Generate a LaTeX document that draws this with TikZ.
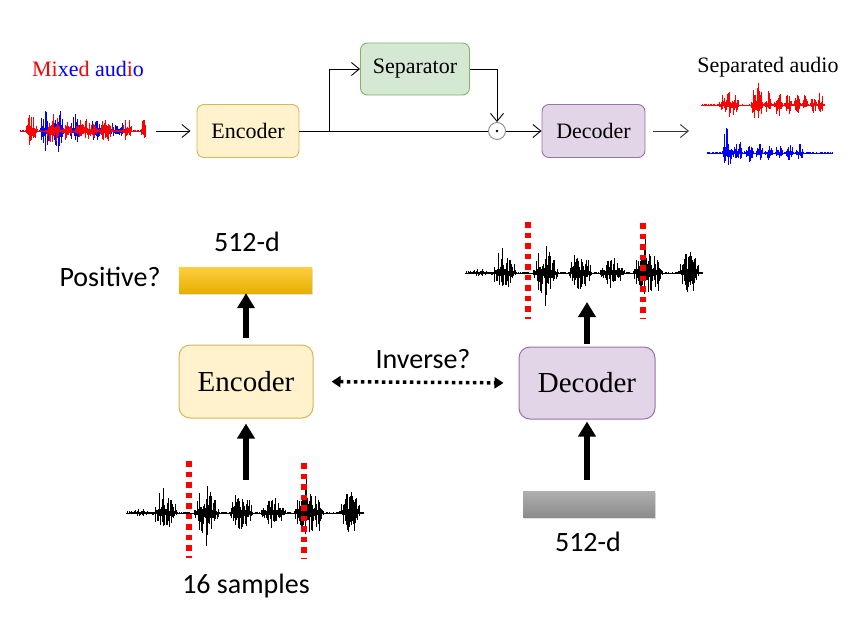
\documentclass[tikz,border=0pt]{standalone}
\usepackage{fontspec}
\setmainfont{Liberation Serif}
\newfontfamily\calfont{Carlito}
\usetikzlibrary{arrows.meta,shadows,calc}

\definecolor{yfill}{HTML}{FFF2CC}\definecolor{ydraw}{HTML}{D6B656}
\definecolor{gfill}{HTML}{D5E8D4}\definecolor{gdraw}{HTML}{82B366}
\definecolor{pfill}{HTML}{E1D5E7}\definecolor{pdraw}{HTML}{9673A6}
\definecolor{mred}{HTML}{FF0000}\definecolor{mblue}{HTML}{0000FF}

\def\wspike{0.5}
\newcommand\wavef[6]{%
  \pgfmathsetseed{#6}%
  \draw[#4,line width=0.6pt] (#1,#2) -- ++(#3,0);
  \foreach \t in {0,0.8,...,#3}{%
    \xdef\wenv{1.1}%
    \foreach \bc/\bh/\bw in {#5}{%
      \pgfmathsetmacro\wm{max(0,1-abs(\t-\bc)/\bw)}%
      \pgfmathparse{\wenv+\bh*\wm*(2-\wm)}%
      \xdef\wenv{\pgfmathresult}}%
    \pgfmathsetmacro\wr{rnd}%
    \pgfmathsetmacro\ws{rnd}%
    \pgfmathsetmacro\wa{\wenv*(0.15+0.7*\wr*\wr+0.25*\wr+\wspike*(\ws>0.93)*(\wenv>6))}%
    \pgfmathsetmacro\wr{rnd}%
    \pgfmathsetmacro\ws{rnd}%
    \pgfmathsetmacro\wb{\wenv*(0.12+0.55*\wr*\wr+0.2*\wr+1.2*\wspike*(\ws>0.94)*(\wenv>6))}%
    \draw[#4,line width=0.55pt] (#1+\t,#2-\wa) -- (#1+\t,#2+\wb);
  }}

\tikzset{
  every node/.style={inner sep=0pt},
  tbox/.style={draw, rounded corners=7pt, line width=0.9pt, minimum width=102pt,
    minimum height=53pt, font=\fontsize{22}{26}\selectfont},
  bbox/.style={draw, rounded corners=11pt, line width=1pt, minimum width=134pt,
    minimum height=73pt, font=\fontsize{29}{33}\selectfont},
  encs/.style={fill=yfill, draw=ydraw},
  seps/.style={fill=gfill, draw=gdraw},
  decs/.style={fill=pfill, draw=pdraw},
  tline/.style={line width=0.9pt, black},
  tarr/.style={tline, -{Straight Barb[length=8pt,width=13pt]}},
  barr/.style={line width=5.5pt, -{Triangle[width=17pt,length=15pt]}},
  darr/.style={line width=3.5pt, dash pattern=on 3.5pt off 3.5pt,
    {Triangle[width=11pt,length=9pt]}-{Triangle[width=11pt,length=9pt]}},
  reddash/.style={mred, line width=5.5pt, dash pattern=on 5.5pt off 5pt},
  lbl/.style={font=\calfont\fontsize{28}{32}\selectfont},
  toplbl/.style={font=\fontsize{22}{26}\selectfont},
  barbox/.style={minimum width=133pt, minimum height=26pt,
    drop shadow={opacity=0.25, shadow xshift=1pt, shadow yshift=-2pt}},
}

\begin{document}
\begin{tikzpicture}[x=1pt,y=-1pt]
\useasboundingbox (0,0) rectangle (863,619);

% ---------------- top row ----------------
\node[toplbl] (mixlbl) at (88,69) {\textcolor{mred}{Mi}\textcolor{mblue}{xe}\textcolor{mred}{d} \textcolor{mblue}{aud}\textcolor{mred}{i}\textcolor{mblue}{o}};
\node[toplbl] (seplbl) at (768,67) {Separated audio};

\def\wspike{0.08}
\wavef{20}{131}{126}{mblue}{25/20/6,38/23/6,55/15/6,75/10/7,94/7/7,102/7/5}{11}
\wavef{20}{131}{126}{mred}{11/16/6,33/16/7,47/12/5,62/15/7,72/10/6,86/12/7,107/12/5,123/10/3}{12}

\wavef{701}{105}{124}{mred}{28/13/11,56/24/6,67/12/4,77/13/4,87/11/4,96/10/3.5,104/10/3.5,112/10/3.5,119/11/3.5}{13}
\wavef{707}{153}{126}{mblue}{20/26/5,30/11/6,42/10/5,52/9/4,62/9/4,72/8/4,82/8/4,93/9/4}{14}
\def\wspike{0.5}

\node[tbox, encs] (enc1) at (248,131) {Encoder};
\node[tbox, seps, minimum width=109pt, minimum height=52pt] (sep1) at (415,69) {Separator};
\node[tbox, decs, minimum width=103pt] (dec1) at (593.5,131) {Decoder};
\node[circle, draw=black!45, line width=0.9pt, minimum size=17pt] (mul) at (497,131) {};
\fill (mul.center) circle (1.4pt);

\coordinate (inA) at (156,131);
\draw[tarr, shorten >=6pt] (inA) -- (enc1.west);
\draw[tline] (enc1.east) -- (mul.west);
\coordinate (br) at (329,131);
\draw[tarr] (br) |- (sep1.west);
\draw[tarr] (sep1.east) -| (mul.north);
\draw[tarr] (mul.east) -- (dec1.west);
\coordinate (outB) at (689,131);
\draw[tarr, draw=black!80, shorten <=8pt] (dec1.east) -- (outB);

% ---------------- bottom ----------------
\wavef{126}{513}{238}{black}{12/3/12,39/15/13,80/26/13,115/20/12,147/13/13,182/25/15,224/20/11}{42}
\wavef{465}{273}{238}{black}{12/3/12,39/15/13,80/26/13,115/20/12,147/13/13,182/25/15,224/20/11}{42}

\draw[reddash] (189,461) -- (189,558);
\draw[reddash] (304,463) -- (304,558);
\draw[reddash] (528,222) -- (528,319);
\draw[reddash] (643,223) -- (643,319);

\node[barbox, top color={rgb,255:red,255;green,206;blue,64}, bottom color={rgb,255:red,230;green,176;blue,0}] (bar1) at (245.5,280) {};
\node[barbox, minimum width=132pt, top color={rgb,255:red,175;green,175;blue,175}, bottom color={rgb,255:red,140;green,140;blue,140}] (bar2) at (589,504) {};

\node[bbox, encs] (enc2) at (246,381.5) {Encoder};
\node[bbox, decs, minimum width=136pt, minimum height=72pt] (dec2) at (587,383) {Decoder};

\node[lbl] (d1) at (247,242) {512-d};
\node[lbl] (pos) at (110,277) {Positive?};
\node[lbl] (inv) at (423,359) {Inverse?};
\node[lbl] (samp) at (246,586) {16 samples};
\node[lbl] (d2) at (588,542) {512-d};

\draw[barr, shorten <=7pt] (enc2.north) -- (enc2.north |- bar1.south);
\coordinate (w1) at (246,480);
\draw[barr, shorten >=5pt] (w1) -- (enc2.south);
\coordinate (w2) at (587,302);
\draw[barr, shorten <=3pt] (dec2.north) -- (w2);
\draw[barr, shorten <=11pt, shorten >=2pt] (dec2.south |- bar2.north) -- (dec2.south);
\draw[darr, shorten <=18pt, shorten >=15pt] (enc2.east) -- (dec2.west);
\end{tikzpicture}
\end{document}
